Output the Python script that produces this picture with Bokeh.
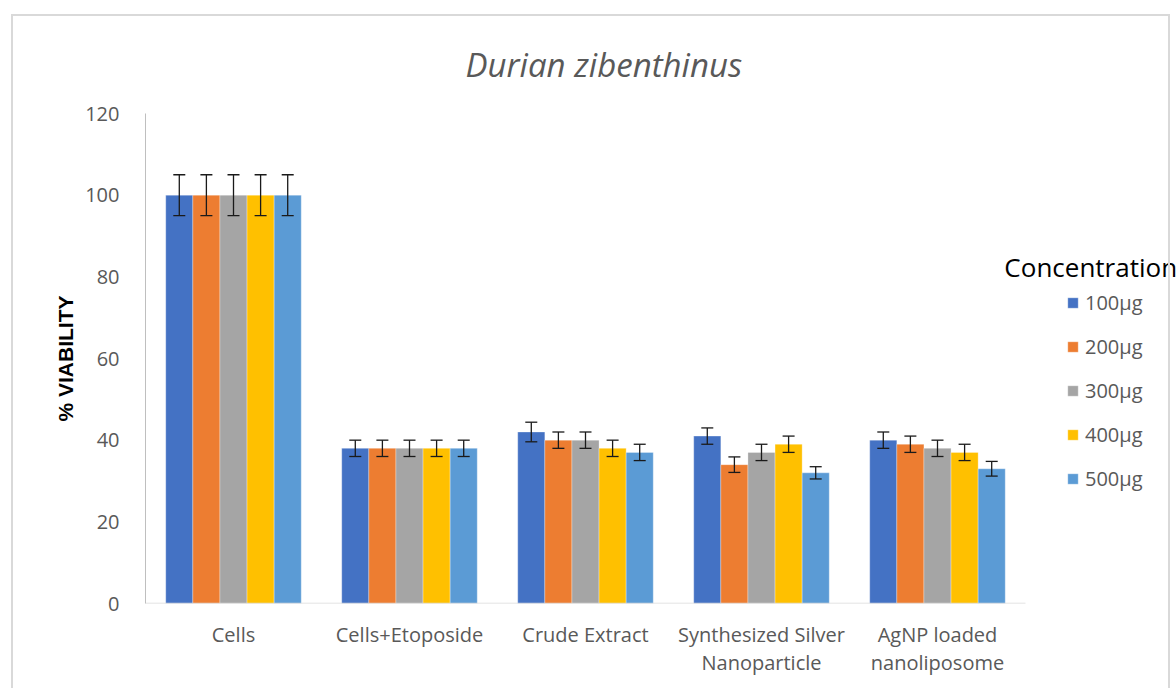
from bokeh.plotting import figure
from bokeh.models import (ColumnDataSource, Range1d, FixedTicker, Whisker, TeeHead,
                          Legend, LegendItem, Label, InlineStyleSheet)
from bokeh.embed import file_html
from bokeh.resources import INLINE

# ---- data ----
categories = ["Cells", "Cells+Etoposide", "Crude Extract",
              "Synthesized Silver\nNanoparticle", "AgNP loaded\nnanoliposome"]
concentrations = ["100µg", "200µg", "300µg", "400µg", "500µg"]
colors = ["#4472C4", "#ED7D31", "#A5A5A5", "#FFC000", "#5B9BD5"]
v100 = [100, 38, 42, 41, 40]
v200 = [100, 38, 40, 34, 39]
v300 = [100, 38, 40, 37, 38]
v400 = [100, 38, 38, 39, 37]
v500 = [100, 38, 37, 32, 33]
e100 = [5, 2, 2.4, 2, 2]
e200 = [5, 2, 2, 1.9, 2]
e300 = [5, 2, 2, 2, 2]
e400 = [5, 2, 2, 2, 2]
e500 = [5, 2, 2, 1.5, 1.8]
y_ticks = [0, 20, 40, 60, 80, 100, 120]
title_text = "Durian zibenthinus"
y_label = "% VIABILITY"
legend_title = "Concentration"

values = [v100, v200, v300, v400, v500]
errors = [e100, e200, e300, e400, e500]

# category slots on a numeric axis (one unit per category); extra room on the
# right holds the legend, as in the original chart
cat_pos = [i + 0.5 for i in range(len(categories))]

W, H = 1176, 688
p = figure(width=W, height=H, x_range=Range1d(0, 5.858), y_range=Range1d(0, 120),
           output_backend="svg", toolbar_location=None,
           min_border_left=145, min_border_right=0, min_border_top=113,
           min_border_bottom=85)
p.outline_line_color = None
p.xgrid.grid_line_color = None
p.ygrid.grid_line_color = None
p.stylesheets = [InlineStyleSheet(css=(
    ":host::after {content: ''; position: absolute; left: 11px; top: 14px; "
    "width: 1159px; height: 674px; border: 2px solid #d9d9d9; border-bottom: none; "
    "pointer-events: none; box-sizing: border-box;}"))]

bw = 0.154
offsets = [-2 * bw, -bw, 0, bw, 2 * bw]
items = []
for vals, errs, col, name, off in zip(values, errors, colors, concentrations, offsets):
    src = ColumnDataSource(dict(x=[c + off for c in cat_pos], val=vals,
                                upper=[v + e for v, e in zip(vals, errs)],
                                lower=[v - e for v, e in zip(vals, errs)]))
    r = p.vbar(x="x", top="val", width=bw, source=src,
               fill_color=col, line_color="white", line_width=0.6, line_alpha=0.5)
    items.append(LegendItem(label=name, renderers=[r]))
    wk = Whisker(base="x", upper="upper", lower="lower", source=src, dimension="height",
                 line_color="#1a1a1a", line_width=1.3, level="annotation",
                 upper_head=TeeHead(size=12, line_color="#1a1a1a", line_width=1.3),
                 lower_head=TeeHead(size=12, line_color="#1a1a1a", line_width=1.3))
    p.add_layout(wk)

# baseline of the category axis (spans only the category slots)
p.segment(x0=[0], y0=[0], x1=[len(categories)], y1=[0], line_color="#d9d9d9",
          line_width=1.5)

# axes
p.yaxis.ticker = FixedTicker(ticks=y_ticks)
p.yaxis.major_tick_line_color = None
p.yaxis.minor_tick_line_color = None
p.yaxis.axis_line_color = "#bfbfbf"
p.yaxis.major_label_text_font = "Open Sans"
p.yaxis.major_label_text_font_size = "20px"
p.yaxis.major_label_text_color = "#595959"
p.yaxis.major_label_standoff = 20
p.yaxis.axis_label = y_label
p.yaxis.axis_label_text_font = "Liberation Sans"
p.yaxis.axis_label_text_font_style = "bold"
p.yaxis.axis_label_text_font_size = "21px"
p.yaxis.axis_label_text_color = "black"
p.yaxis.axis_label_standoff = 5

p.xaxis.ticker = FixedTicker(ticks=cat_pos)
p.xaxis.major_label_overrides = {c: lab for c, lab in zip(cat_pos, categories)}
p.xaxis.major_tick_line_color = None
p.xaxis.minor_tick_line_color = None
p.xaxis.axis_line_color = None
p.xaxis.major_label_text_font = "Open Sans"
p.xaxis.major_label_text_font_size = "20px"
p.xaxis.major_label_text_color = "#595959"
p.xaxis.major_label_text_line_height = 1.07
p.xaxis.major_label_standoff = 11

# title
p.title.text = title_text
p.title.align = "left"
p.title.offset = 320
p.title.standoff = 53
p.title.text_font = "Open Sans"
p.title.text_font_style = "italic"
p.title.text_font_size = "33px"
p.title.text_color = "#595959"

# legend
legend = Legend(items=items, location=(921, 111), orientation="vertical",
                padding=0, margin=0, spacing=17, glyph_width=13, glyph_height=13,
                label_standoff=6, border_line_color=None, background_fill_alpha=0,
                label_text_font="Open Sans", label_text_font_size="20px",
                label_text_color="#595959")
p.add_layout(legend, "center")
p.add_layout(Label(x=4.88, y=82.3, text=legend_title, text_align="left",
                   text_baseline="middle", text_font="Open Sans",
                   text_font_size="26px", text_color="black"))

open("out.html", "w").write(file_html(p, INLINE))
